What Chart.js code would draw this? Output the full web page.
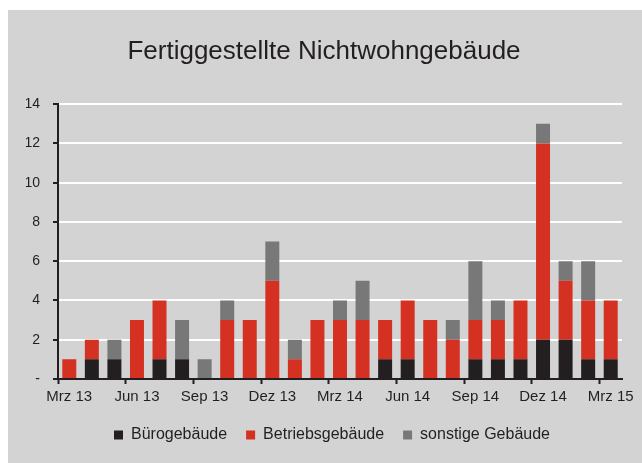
<!DOCTYPE html>
<html><head><meta charset="utf-8">
<script src="https://cdn.jsdelivr.net/npm/chart.js@4/dist/chart.umd.min.js"></script>
<style>html,body{margin:0;padding:0;background:#fff}canvas{display:block}</style>
</head><body>
<canvas id="c" width="642" height="463"></canvas>
<script>
const months = ["Mrz 13","Apr 13","Mai 13","Jun 13","Jul 13","Aug 13","Sep 13","Okt 13","Nov 13","Dez 13",
  "Jan 14","Feb 14","Mrz 14","Apr 14","Mai 14","Jun 14","Jul 14","Aug 14","Sep 14","Okt 14","Nov 14","Dez 14",
  "Jan 15","Feb 15","Mrz 15"];
const buero    = [0,1,1,0,1,1,0,0,0,0,0,0,0,0,1,1,0,0,1,1,1,2,2,1,1];
const betrieb  = [1,1,0,3,3,0,0,3,3,5,1,3,3,3,2,3,3,2,2,2,3,10,3,3,3];
const sonstige = [0,0,1,0,0,2,1,1,0,2,1,0,1,2,0,0,0,1,3,1,0,1,1,2,0];
const seriesNames = ["Bürogebäude","Betriebsgebäude","sonstige Gebäude"];
const titleText = "Fertiggestellte Nichtwohngebäude";
const labelEvery = 3;

const FONT = "'Liberation Sans', Arial, sans-serif";
const TXT = '#231f20';

const bgPlugin = {
  id: 'bg',
  beforeDraw(chart) {
    const c = chart.ctx;
    c.save();
    c.fillStyle = '#ffffff';
    c.fillRect(0, 0, chart.width, chart.height);
    c.fillStyle = '#d2d3d2';
    c.fillRect(8, 10, chart.width - 8, chart.height - 10);
    c.restore();
  }
};
const shiftPlugin = {
  id: 'shift',
  afterLayout(chart) {
    if (chart.legend) { chart.legend.left += 8; chart.legend.right += 8; }
  }
};

new Chart(document.getElementById('c'), {
  type: 'bar',
  data: {
    labels: months,
    datasets: [
      { label: seriesNames[0], data: buero, backgroundColor: '#231f20', borderWidth: 0 },
      { label: seriesNames[1], data: betrieb, backgroundColor: '#d43122', borderWidth: 0 },
      { label: seriesNames[2], data: sonstige, backgroundColor: '#787878', borderWidth: 0 }
    ]
  },
  options: {
    responsive: false,
    animation: false,
    layout: { padding: { left: 26, right: 20, top: 0, bottom: 10 } },
    datasets: { bar: { categoryPercentage: 1, barPercentage: 0.62 } },
    plugins: {
      title: {
        display: true, text: titleText, color: TXT,
        font: { family: FONT, size: 26, weight: 'normal' },
        padding: { top: 36, bottom: 37 }
      },
      legend: {
        position: 'bottom',
        labels: {
          boxWidth: 9, boxHeight: 9, padding: 19, color: TXT,
          font: { family: FONT, size: 16 }
        }
      },
      tooltip: { enabled: false }
    },
    scales: {
      x: {
        stacked: true,
        offset: true,
        grid: {
          offset: true, drawOnChartArea: false, drawTicks: true, tickLength: 5, tickWidth: 2,
          tickColor: ctx => (ctx.index !== undefined && ctx.index % labelEvery === 0) ? TXT : 'rgba(0,0,0,0)'
        },
        border: { display: true, color: TXT, width: 2 },
        ticks: {
          autoSkip: false, maxRotation: 0, minRotation: 0, padding: 4, color: TXT,
          font: { family: FONT, size: 15 },
          callback: (v, i) => i % labelEvery === 0 ? months[i] : ''
        },
        afterFit: s => { s.height = 29; }
      },
      y: {
        stacked: true,
        min: 0, max: 14,
        ticks: {
          stepSize: 2, padding: 13, color: TXT,
          font: { family: FONT, size: 14 },
          callback: v => v === 0 ? '-' : String(v)
        },
        grid: {
          color: ctx => (ctx.tick && ctx.tick.value === 0) ? 'rgba(0,0,0,0)' : '#ffffff',
          lineWidth: 2, tickLength: 5, tickWidth: 2, tickColor: TXT
        },
        border: { display: true, color: TXT, width: 2 },
        afterFit: s => { s.width = 32; }
      }
    }
  },
  plugins: [bgPlugin, shiftPlugin]
});
</script>
</body></html>
